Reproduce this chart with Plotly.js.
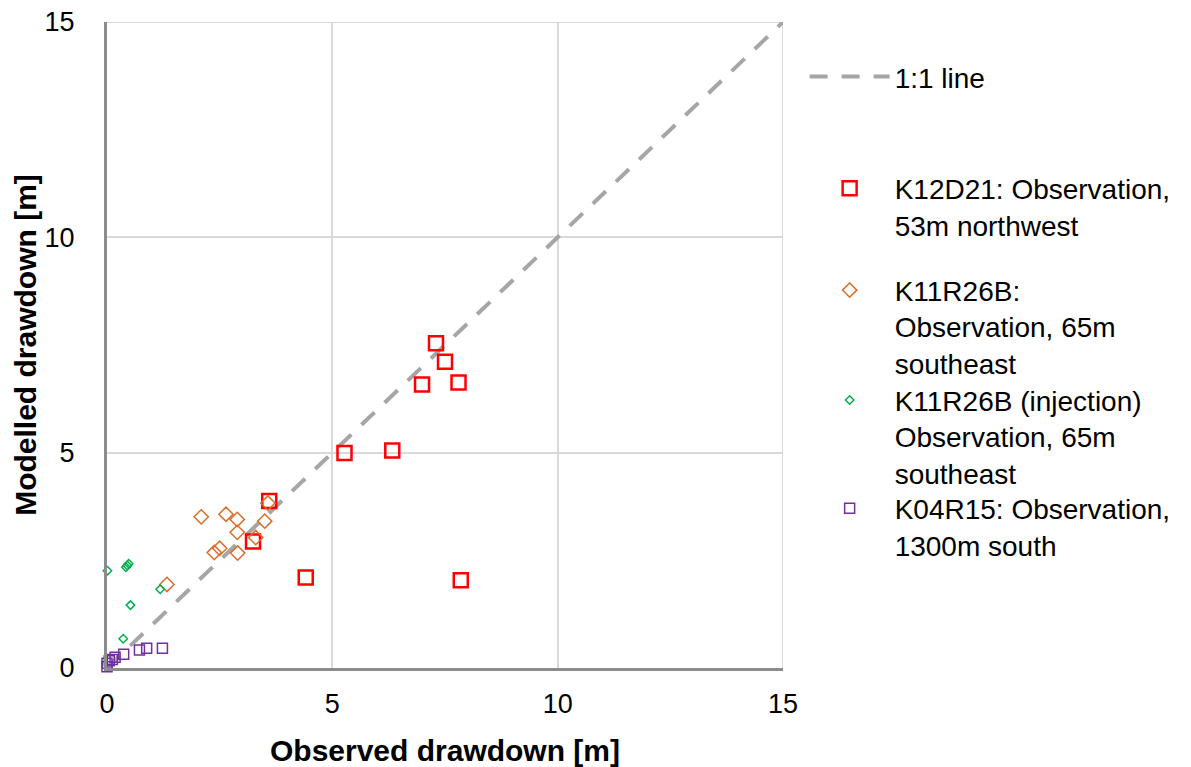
<!DOCTYPE html>
<html>
<head>
<meta charset="utf-8">
<script src="https://cdn.plot.ly/plotly-3.0.1.min.js"></script>
<style>html,body{margin:0;padding:0;background:#fff;}#chart{width:1191px;height:767px;}</style>
</head>
<body>
<div id="chart"></div>
<script>
// 1:1 reference line
const lineX = [0, 15];
const lineY = [0, 15];

// K12D21: Observation, 53m northwest
const k12X = [7.30, 7.50, 6.99, 7.80, 5.27, 6.33, 4.41, 7.85, 3.60, 3.24];
const k12Y = [7.54, 7.11, 6.58, 6.63, 4.99, 5.05, 2.10, 2.04, 3.88, 2.94];

// K11R26B: Observation, 65m southeast
const k11X = [2.09, 2.64, 2.89, 2.89, 3.50, 3.57, 2.50, 2.38, 2.90, 3.30, 1.33];
const k11Y = [3.51, 3.57, 3.45, 3.15, 3.41, 3.83, 2.78, 2.68, 2.67, 3.03, 1.94];

// K11R26B (injection) Observation, 65m southeast
const k11injX = [0.01, 0.42, 0.45, 0.48, 1.18, 0.52, 0.36];
const k11injY = [2.26, 2.34, 2.38, 2.42, 1.83, 1.46, 0.68];

// K04R15: Observation, 1300m south
const k04X = [1.23, 0.88, 0.72, 0.37, 0.18, 0.12, 0.05, 0.00, 0.00];
const k04Y = [0.46, 0.46, 0.42, 0.32, 0.25, 0.20, 0.17, 0.11, 0.03];

const names = [
  '1:1 line',
  'K12D21: Observation,<br>53m northwest',
  'K11R26B:<br>Observation, 65m<br>southeast',
  'K11R26B (injection)<br>Observation, 65m<br>southeast',
  'K04R15: Observation,<br>1300m south'
];

const traces = [
  {x: lineX, y: lineY, mode: 'lines', name: names[0], legend: 'legend',
   line: {color: '#a6a6a6', width: 4, dash: '18px,14px'}, hoverinfo: 'skip'},
  {x: k12X, y: k12Y, mode: 'markers', name: names[1], legend: 'legend2', cliponaxis: false,
   marker: {symbol: 'square-open', size: 14, color: '#ff0000', line: {width: 2.5, color: '#ff0000'}}},
  {x: k11X, y: k11Y, mode: 'markers', name: names[2], legend: 'legend3', cliponaxis: false,
   marker: {symbol: 'diamond-open', size: 11, color: '#dc6d27', line: {width: 1.5, color: '#dc6d27'}}},
  {x: k11injX, y: k11injY, mode: 'markers', name: names[3], legend: 'legend4', cliponaxis: false,
   marker: {symbol: 'diamond-open', size: 6.5, color: '#00b050', line: {width: 1.5, color: '#00b050'}}},
  {x: k04X, y: k04Y, mode: 'markers', name: names[4], legend: 'legend5', cliponaxis: false,
   marker: {symbol: 'square-open', size: 10, color: '#7030a0', line: {width: 1.5, color: '#7030a0'}}}
];

const legFont = {family: 'Liberation Sans, Arial, sans-serif', size: 28, color: '#000'};
function leg(y) {
  return {x: 1.032, xanchor: 'left', y: y, yanchor: 'middle', font: legFont,
          bgcolor: 'rgba(0,0,0,0)', borderwidth: 0, itemwidth: 80, valign: 'top',
          itemclick: false, itemdoubleclick: false};
}

const layout = {
  width: 1191, height: 767,
  margin: {l: 107, r: 408, t: 22, b: 99},
  paper_bgcolor: '#fff', plot_bgcolor: '#fff',
  font: {family: 'Liberation Sans, Arial, sans-serif', color: '#000'},
  showlegend: true,
  legend: leg(0.915),
  legend2: leg(0.7144),
  legend3: leg(0.528),
  legend4: leg(0.358),
  legend5: leg(0.219),
  xaxis: {
    range: [0, 15], tickvals: [0, 5, 10, 15], ticktext: ['0', '5', '10', '15'],
    showgrid: true, gridcolor: '#d9d9d9', gridwidth: 2,
    zeroline: false, showline: true, linecolor: '#8c8c8c', linewidth: 3,
    ticks: '', ticklabelstandoff: 10,
    tickfont: {family: 'Liberation Sans, Arial, sans-serif', size: 27, color: '#000'},
    title: {text: 'Observed drawdown [m]', standoff: 24,
            font: {family: 'Liberation Sans, Arial, sans-serif', size: 30, color: '#000', weight: 'bold'}},
    automargin: false, fixedrange: true
  },
  yaxis: {
    range: [0, 15], tickvals: [0, 5, 10, 15], ticktext: ['0', '5', '10', '15'],
    showgrid: true, gridcolor: '#d9d9d9', gridwidth: 2,
    zeroline: false, showline: true, linecolor: '#8c8c8c', linewidth: 3,
    ticks: '', ticklabelstandoff: 24,
    tickfont: {family: 'Liberation Sans, Arial, sans-serif', size: 27, color: '#000'},
    title: {text: 'Modelled drawdown [m]', standoff: 0,
            font: {family: 'Liberation Sans, Arial, sans-serif', size: 30, color: '#000', weight: 'bold'}},
    automargin: false, fixedrange: true
  },
  shapes: [
    {type: 'line', xref: 'x', yref: 'y', x0: 0, x1: 15, y0: 15, y1: 15, line: {color: '#d9d9d9', width: 2}, layer: 'below'},
    {type: 'line', xref: 'x', yref: 'y', x0: 15, x1: 15, y0: 0, y1: 15, line: {color: '#d9d9d9', width: 2}, layer: 'below'}
  ]
};

Plotly.newPlot('chart', traces, layout, {displayModeBar: false, staticPlot: true});
</script>
</body>
</html>
